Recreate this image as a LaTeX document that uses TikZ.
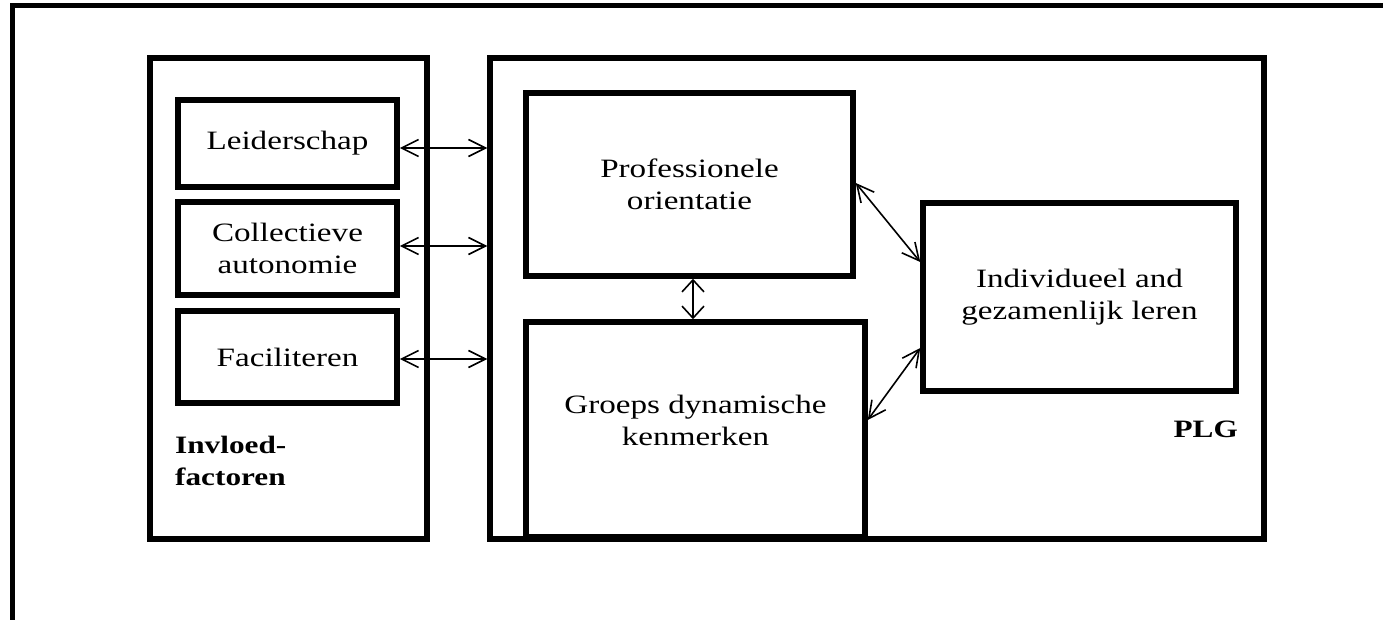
\documentclass[tikz,border=0pt]{standalone}
\usepackage{fontspec}
\setmainfont{Liberation Serif}[FakeStretch=1.25]
\usetikzlibrary{arrows.meta}
\begin{document}
\begin{tikzpicture}[x=1pt,y=-1pt,
  frame/.style={line width=5pt},
  box/.style={draw, line width=5.5pt, rectangle, inner sep=0pt, align=center,
    font=\fontsize{26.5}{32}\selectfont},
  txt/.style={inner sep=0pt, align=center, font=\fontsize{26.5}{32}\selectfont},
  arr/.style={line width=1.6pt,
    {Straight Barb[length=17pt,width=17pt,line width=1.6pt]}-{Straight Barb[length=17pt,width=17pt,line width=1.6pt]}},
  varr/.style={line width=1.6pt,
    {Straight Barb[length=12pt,width=22pt,line width=1.6pt]}-{Straight Barb[length=12pt,width=22pt,line width=1.6pt]}},
  lbl/.style={inner sep=0pt, font=\fontsize{25}{32}\selectfont\bfseries, align=left}]
\useasboundingbox (0,0) rectangle (1383,620);
\fill[white] (0,0) rectangle (1383,620);
% outer frame (top and left only visible)
\draw[frame] (12,620) -- (12,6) -- (1383,6);
% big boxes
\node[box, minimum width=277pt, minimum height=481pt] (inv) at (288.5,298.5) {};
\node[box, minimum width=774pt, minimum height=481pt] (plg) at (877,298.5) {};
% small boxes
\node[box, minimum width=219pt, minimum height=87pt] (lead) at (287.5,143.5) {Leiderschap};
\node[box, minimum width=219pt, minimum height=93pt] (coll) at (287.5,248.5) {Collectieve\\autonomie};
\node[box, minimum width=219pt, minimum height=92pt] (fac) at (287.5,357) {Faciliteren};
\node[box, minimum width=327pt, minimum height=183pt] (prof) at (689.5,184.5) {Professionele\\orientatie};
\node[box, minimum width=339pt, minimum height=215pt] (grp) at (695.5,429.5) {};
\node[txt] (grpt) at (695.5,420) {Groeps dynamische\\kenmerken};
\node[box, minimum width=313pt, minimum height=188pt] (ind) at (1079.5,297) {Individueel and\\gezamenlijk leren};
% labels
\node[lbl, anchor=north west] (invl) at (175,436) {Invloed-\\factoren};
\node[lbl, anchor=base east] (plgl) at (1238,437) {PLG};
% arrows
\draw[arr] (lead.east |- 0,148) -- (plg.west |- 0,148);
\draw[arr] (coll.east |- 0,246) -- (plg.west |- 0,246);
\draw[arr] (fac.east |- 0,359) -- (plg.west |- 0,359);
\draw[varr] (693,0 |- prof.south) -- (693,0 |- grp.north);
\draw[arr] (prof.east |- 0,183) -- (ind.west |- 0,262);
\draw[arr] (ind.west |- 0,348) -- (grp.east |- 0,420);
\end{tikzpicture}
\end{document}
